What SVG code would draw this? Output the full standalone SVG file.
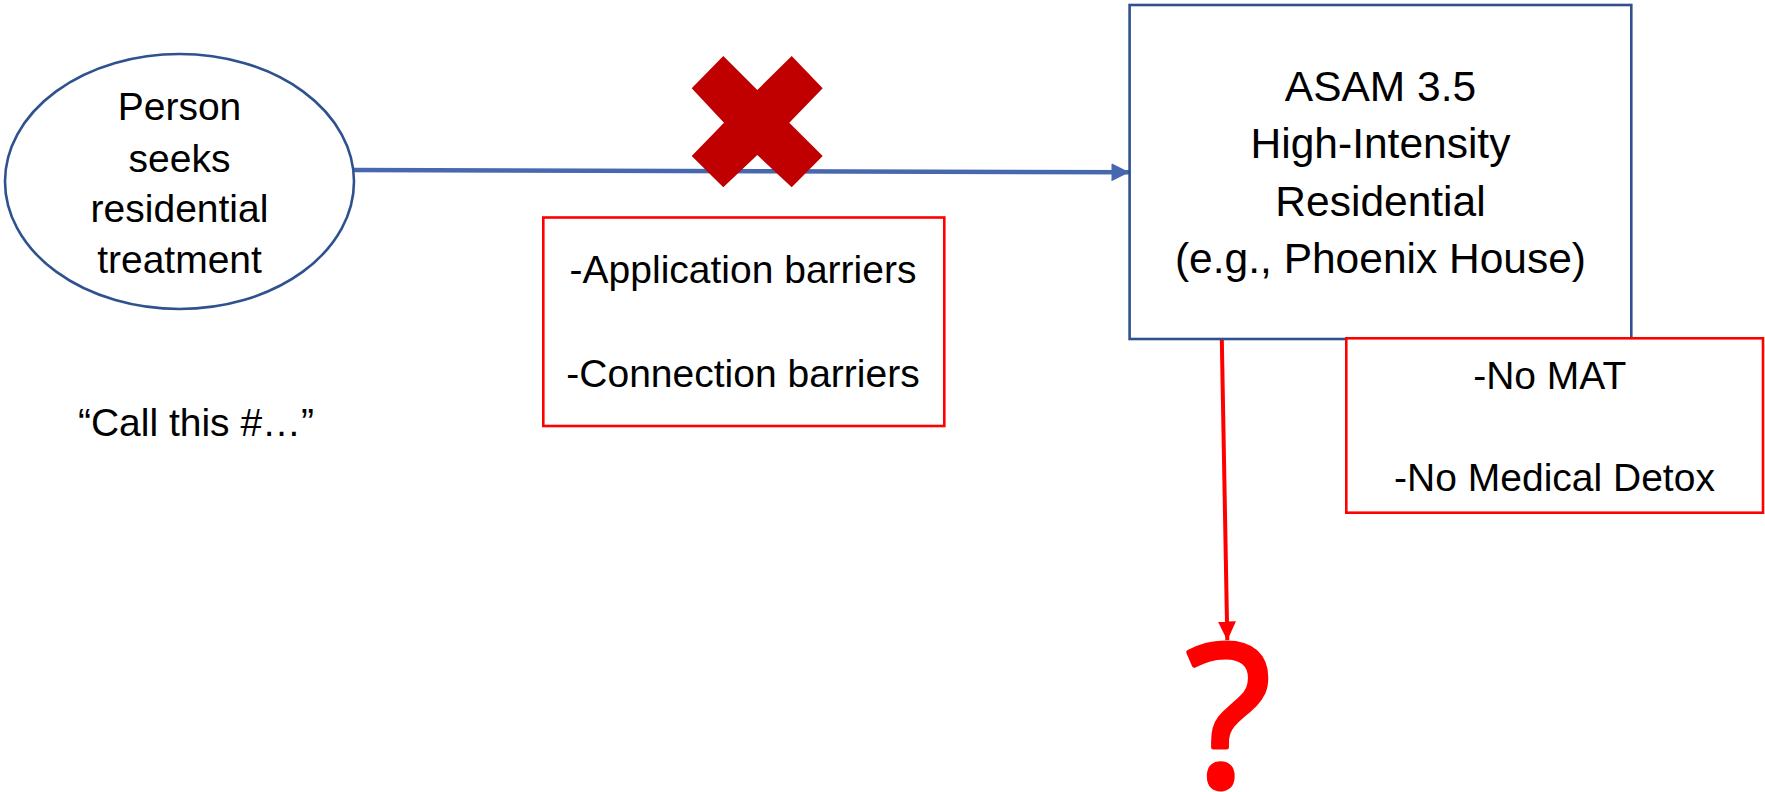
<svg xmlns="http://www.w3.org/2000/svg" width="1765" height="792" viewBox="0 0 1765 792">
<style>
text{font-family:"Liberation Sans",Arial,sans-serif;fill:#000;text-anchor:middle}
.t39{font-size:39px}
.t42{font-size:42.5px}
.blue{fill:#fff;stroke:#2F528F;stroke-width:2.6}
.red{fill:#fff;stroke:#FF0000;stroke-width:2.6}
</style>
<defs>
<marker id="ab" markerUnits="userSpaceOnUse" markerWidth="18" markerHeight="18" refX="17.5" refY="9" orient="auto" viewBox="0 0 18 18"><path d="M0,0 L18,9 L0,18 Z" fill="#4668AF"/></marker>
<marker id="ar" markerUnits="userSpaceOnUse" markerWidth="19" markerHeight="18" refX="18.5" refY="9" orient="auto" viewBox="0 0 19 18"><path d="M0,0 L19,9 L0,18 Z" fill="#FF0000"/></marker>
</defs>
<g id="connectors">
<line x1="354" y1="170" x2="1129" y2="172.3" stroke="#4668AF" stroke-width="4.5" marker-end="url(#ab)"/>
<line x1="1221.8" y1="339" x2="1227.3" y2="640" stroke="#FF0000" stroke-width="4" marker-end="url(#ar)"/>
</g>
<g id="person">
<ellipse cx="179.5" cy="181.5" rx="174.5" ry="127.5" class="blue"/>
<text class="t39" x="179.5" y="120">Person</text>
<text class="t39" x="179.5" y="172">seeks</text>
<text class="t39" x="179.5" y="222">residential</text>
<text class="t39" x="179.5" y="273">treatment</text>
</g>
<g id="call">
<text class="t39" x="196" y="436">“Call this #…”</text>
</g>
<g id="cross">
<polygon fill="#C00000" points="691.7,88.3 723.3,56 757.3,90 791.7,56 822.7,88.3 789.3,122.7 822.7,156 791.7,187.3 757.3,155 723.3,187.3 691.7,156 724,122.7"/>
</g>
<g id="barriers">
<rect x="543.3" y="217.5" width="401" height="208.5" class="red"/>
<text class="t39" x="743" y="283.3">-Application barriers</text>
<text class="t39" x="743" y="386.7">-Connection barriers</text>
</g>
<g id="asam">
<rect x="1129.6" y="5" width="501.7" height="334" class="blue"/>
<text class="t42" x="1380.5" y="101">ASAM 3.5</text>
<text class="t42" x="1380.5" y="158">High-Intensity</text>
<text class="t42" x="1380.5" y="216">Residential</text>
<text class="t42" x="1380.5" y="273">(e.g., Phoenix House)</text>
</g>
<g id="nomat">
<rect x="1346.3" y="338.3" width="416.7" height="174.4" class="red"/>
<text class="t39" x="1549.7" y="389">-No MAT</text>
<text class="t39" x="1554.5" y="490.7">-No Medical Detox</text>
</g>
<g id="question">
<text x="1228.5" y="786" style="font-family:'Open Sans',sans-serif;font-size:198px;fill:#FF0000;stroke:#FF0000;stroke-width:5;stroke-linejoin:round">?</text>
</g>
</svg>
